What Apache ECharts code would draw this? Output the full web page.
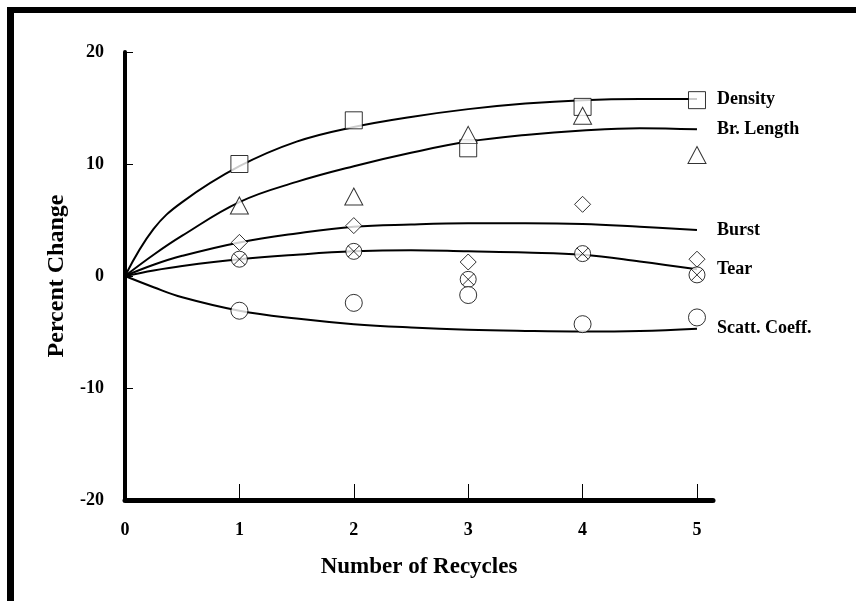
<!DOCTYPE html>
<html>
<head>
<meta charset="utf-8">
<script src="https://cdn.jsdelivr.net/npm/echarts@6/dist/echarts.min.js"></script>
<style>
  html, body { margin: 0; padding: 0; background: #fff; }
  #chart { width: 856px; height: 601px; }
</style>
</head>
<body>
<div id="chart"></div>
<script>
// measured points (number of recycles 1..5)
const recycles = [1, 2, 3, 4, 5]
const density = [10.0, 13.9, 11.4, 15.1, 15.7]
const brLength = [6.3, 7.1, 12.6, 14.3, 10.8]
const burst = [3.0, 4.5, 1.25, 6.4, 1.5]
const tear = [1.5, 2.2, -0.3, 2.0, 0.1]
const scatt = [-3.1, -2.4, -1.7, -4.3, -3.7]

// fitted curves
const fitX = [0, 0.25, 0.5, 1, 1.5, 2, 2.5, 3, 3.5, 4, 4.5, 5]
const densityFit = [0, 4.2, 6.6, 9.8, 12.0, 13.3, 14.2, 14.9, 15.4, 15.7, 15.8, 15.8]
const brLengthFit = [0, 1.9, 3.6, 6.6, 8.4, 9.8, 11.0, 12.0, 12.6, 13.0, 13.2, 13.1]
const burstFit = [0, 1.0, 1.8, 3.0, 3.8, 4.4, 4.6, 4.7, 4.7, 4.65, 4.4, 4.1]
const tearFit = [0, 0.5, 0.9, 1.5, 1.9, 2.2, 2.3, 2.2, 2.1, 1.9, 1.3, 0.6]
const scattFit = [0, -1.0, -1.9, -3.1, -3.8, -4.3, -4.6, -4.8, -4.9, -4.95, -4.9, -4.7]

const xTicks = [0, 1, 2, 3, 4, 5]
const yTicks = [-20, -10, 0, 10, 20]

const serif = 'Liberation Serif'
const crossCircle = 'path://M0,-10A10,10,0,1,1,0,10A10,10,0,1,1,0,-10ZM-7.07,-7.07L7.07,7.07M7.07,-7.07L-7.07,7.07'

const chart = echarts.init(document.getElementById('chart'))

function pairs (xs, ys) {
  return xs.map((x, i) => [x, ys[i]])
}

function fitLine (name, ys) {
  return {
    name: name,
    type: 'line',
    smooth: 0.4,
    showSymbol: false,
    symbol: 'none',
    data: pairs(fitX, ys),
    lineStyle: { color: '#000', width: 2 },
    z: 2,
    endLabel: {
      show: true,
      formatter: name,
      distance: 20,
      color: '#000',
      fontFamily: serif,
      fontWeight: 'bold',
      fontSize: 18
    }
  }
}

function points (name, ys, symbol, size) {
  return {
    name: name + ' pts',
    type: 'scatter',
    symbol: symbol,
    symbolSize: size,
    data: pairs(recycles, ys),
    itemStyle: { color: '#fff', borderColor: '#000', borderWidth: 1 },
    z: 3
  }
}

const option = {
  animation: false,
  backgroundColor: '#fff',
  grid: { left: 125, right: 143, top: 52, bottom: 101 },
  xAxis: {
    type: 'value',
    min: 0,
    max: 5.14,
    name: 'Number of Recycles',
    nameLocation: 'middle',
    nameGap: 56,
    nameTextStyle: { fontFamily: serif, fontWeight: 'bold', fontSize: 23, color: '#000' },
    axisLine: { onZero: false, lineStyle: { color: '#000', width: 5 } },
    axisTick: { inside: true, length: 16, customValues: xTicks.slice(1), lineStyle: { color: '#000', width: 1 } },
    axisLabel: { customValues: xTicks, margin: 21, fontFamily: serif, fontWeight: 'bold', fontSize: 18, color: '#000' },
    splitLine: { show: false }
  },
  yAxis: {
    type: 'value',
    min: -20,
    max: 20,
    interval: 10,
    name: 'Percent Change',
    nameLocation: 'middle',
    nameGap: 55,
    nameTextStyle: { fontFamily: serif, fontWeight: 'bold', fontSize: 24, color: '#000' },
    axisLine: { onZero: false, lineStyle: { color: '#000', width: 4 } },
    axisTick: { inside: true, length: 8, customValues: yTicks, lineStyle: { color: '#000', width: 1 } },
    axisLabel: { customValues: yTicks, margin: 21, fontFamily: serif, fontWeight: 'bold', fontSize: 18, color: '#000' },
    splitLine: { show: false }
  },
  graphic: [
    { type: 'rect', left: 7, top: 7, shape: { width: 849, height: 6 }, style: { fill: '#000' } },
    { type: 'rect', left: 7, top: 7, shape: { width: 7, height: 594 }, style: { fill: '#000' } }
  ],
  series: [
    fitLine('Density', densityFit),
    fitLine('Br. Length', brLengthFit),
    fitLine('Burst', burstFit),
    fitLine('Tear', tearFit),
    fitLine('Scatt. Coeff.', scattFit),
    points('Density', density, 'rect', 17),
    points('Br. Length', brLength, 'triangle', [18, 17]),
    points('Burst', burst, 'diamond', [16, 16]),
    points('Tear', tear, crossCircle, 16),
    points('Scatt. Coeff.', scatt, 'circle', 17)
  ]
}

chart.setOption(option)
window.addEventListener('resize', () => {
  chart.resize()
})
</script>
</body>
</html>
